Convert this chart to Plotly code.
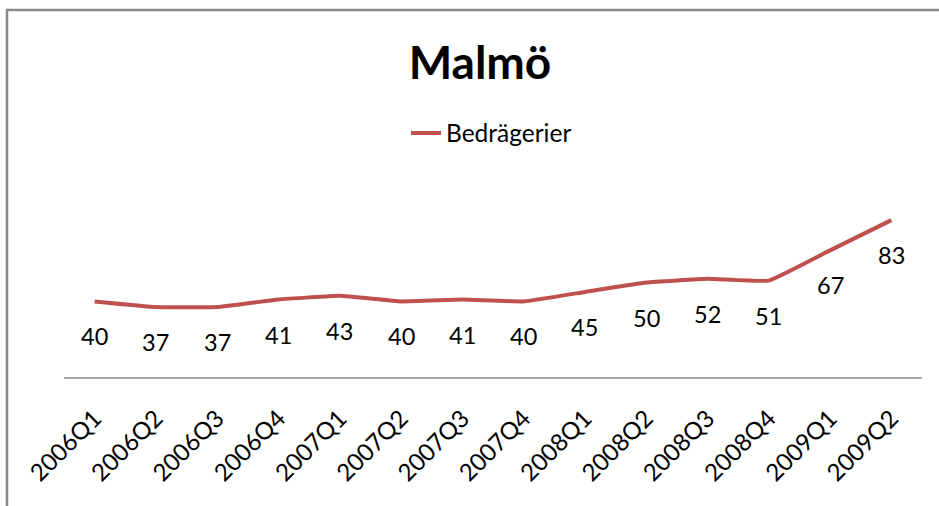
import plotly.graph_objects as go

categories = ["2006Q1", "2006Q2", "2006Q3", "2006Q4", "2007Q1", "2007Q2", "2007Q3",
              "2007Q4", "2008Q1", "2008Q2", "2008Q3", "2008Q4", "2009Q1", "2009Q2"]
values = [40, 37, 37, 41, 43, 40, 41, 40, 45, 50, 52, 51, 67, 83]
series_name = "Bedrägerier"
title_text = "Malmö"

W, H = 939, 506
ML, MR, MT, MB = 64, 17, 188, 129
pw = W - ML - MR
ph = H - MT - MB

def px_to_paper_x(px):
    return (px - ML) / pw

def py_to_paper_y(py):
    return (H - MB - py) / ph

fig = go.Figure()
fig.add_trace(go.Scatter(
    x=categories, y=values, mode="lines", name=series_name,
    line=dict(color="#C0504D", width=4, shape="spline", smoothing=0.3),
    showlegend=True,
))

for c, v in zip(categories, values):
    fig.add_annotation(x=c, y=v, xref="x", yref="y", text=str(v), showarrow=False,
                       yshift=-35, font=dict(family="Lato", size=23.5, color="#000000"))

border = "#888888"
fig.add_shape(type="line", xref="paper", yref="paper",
              x0=px_to_paper_x(7), x1=px_to_paper_x(7),
              y0=py_to_paper_y(10), y1=py_to_paper_y(H + 5),
              line=dict(color=border, width=2.5))
fig.add_shape(type="line", xref="paper", yref="paper",
              x0=px_to_paper_x(6), x1=px_to_paper_x(W + 5),
              y0=py_to_paper_y(10), y1=py_to_paper_y(10),
              line=dict(color=border, width=2.5))

fig.update_layout(
    width=W, height=H,
    margin=dict(l=ML, r=MR, t=MT, b=MB),
    paper_bgcolor="white", plot_bgcolor="white",
    title=dict(text="<b>" + title_text + "</b>", x=480 / W, xanchor="center",
               y=1 - 63 / H, yanchor="middle",
               font=dict(family="Lato", size=46, color="#000000")),
    legend=dict(orientation="h", x=px_to_paper_x(406), xanchor="left",
                y=py_to_paper_y(133), yanchor="middle",
                font=dict(family="Lato", size=24.5, color="#000000"),
                bgcolor="rgba(0,0,0,0)"),
    xaxis=dict(type="category", showgrid=False, zeroline=False, showline=True,
               linecolor="#A6A6A6", linewidth=1.5, ticks="", tickangle=-45,
               tickfont=dict(family="Lato", size=24, color="#000000"),
               ticklabelstandoff=16, range=[-0.5, len(categories) - 0.5]),
    yaxis=dict(range=[0, 100], showgrid=False, zeroline=False, showline=False,
               showticklabels=False, ticks=""),
    font=dict(family="Lato"),
)

fig.write_html("out.html", config={"displayModeBar": False},
               post_script="document.body.style.margin='0';document.body.style.overflow='hidden';")
